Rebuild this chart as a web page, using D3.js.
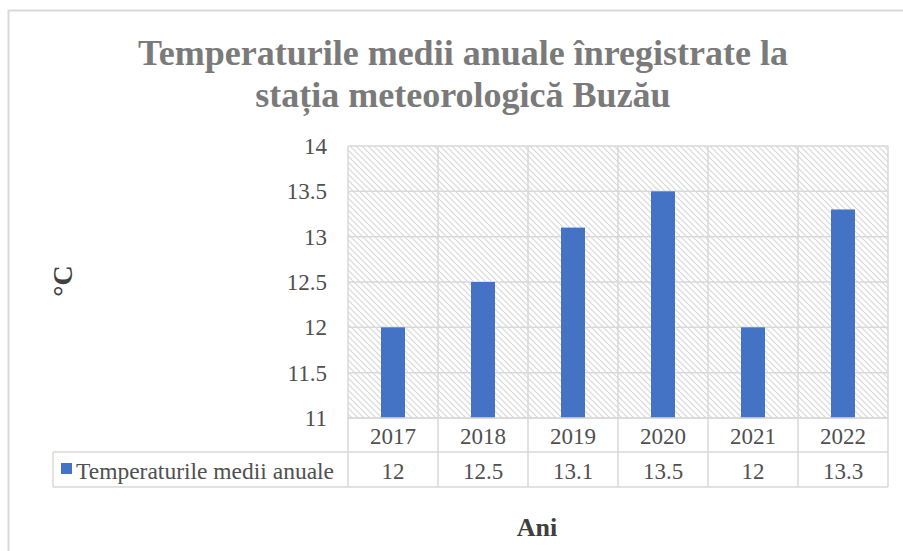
<!DOCTYPE html>
<html><head><meta charset="utf-8">
<script src="https://cdn.jsdelivr.net/npm/d3@7/dist/d3.min.js"></script>
<style>body{margin:0;background:#fff}svg{display:block}</style>
</head><body>
<script>
const years = ["2017","2018","2019","2020","2021","2022"];
const values = [12, 12.5, 13.1, 13.5, 12, 13.3];
const valueLabels = ["12","12.5","13.1","13.5","12","13.3"];
const yTicks = [11, 11.5, 12, 12.5, 13, 13.5, 14];
const seriesName = "Temperaturile medii anuale";
const titleLines = ["Temperaturile medii anuale înregistrate la", "stația meteorologică Buzău"];
const yTitle = "°C";
const xTitle = "Ani";

(function(){
const W = 903, H = 551;
const svg = d3.select("body").append("svg").attr("width", W).attr("height", H);
const font = "'Liberation Serif','Times New Roman',serif";
const txt = "#505050";

// hatch pattern
const defs = svg.append("defs");
const pat = defs.append("pattern").attr("id","hatch").attr("patternUnits","userSpaceOnUse")
  .attr("width",6).attr("height",6);
pat.append("rect").attr("width",6).attr("height",6).attr("fill","#fff");
pat.append("path").attr("d","M-1,-1 L7,7 M-4,2 L2,8 M4,-2 L8,2").attr("stroke","#d6d6d6").attr("stroke-width",1.1);

// outer border
svg.append("rect").attr("x",8.5).attr("y",10.5).attr("width",W+20).attr("height",H+20)
  .attr("fill","none").attr("stroke","#d9d9d9").attr("stroke-width",2);

const pLeft = 348, pRight = 888, pTop = 146, pBottom = 418;
const x = d3.scaleBand().domain(years).range([pLeft, pRight]).paddingInner(0).paddingOuter(0);
const y = d3.scaleLinear().domain([11, 14]).range([pBottom, pTop]);

// plot background
svg.append("rect").attr("x",pLeft).attr("y",pTop).attr("width",pRight-pLeft).attr("height",pBottom-pTop).attr("fill","url(#hatch)");

// gridlines
svg.append("g").selectAll("line").data(yTicks).join("line")
  .attr("x1",pLeft).attr("x2",pRight).attr("y1",d=>y(d)).attr("y2",d=>y(d))
  .attr("stroke","#d9d9d9").attr("stroke-width",1.5);
// vertical category lines
const bounds = years.map(d=>x(d)).concat([pRight]);
svg.append("g").selectAll("line").data(bounds).join("line")
  .attr("x1",d=>d).attr("x2",d=>d).attr("y1",pTop).attr("y2",487)
  .attr("stroke","#d9d9d9").attr("stroke-width",1.5);

// bars
const bw = 24;
svg.append("g").selectAll("rect").data(values).join("rect")
  .attr("x",(d,i)=>x(years[i])+x.bandwidth()/2-bw/2)
  .attr("width",bw)
  .attr("y",d=>y(d)).attr("height",d=>pBottom-y(d))
  .attr("fill","#4472c4");

// y tick labels
svg.append("g").selectAll("text").data(yTicks).join("text")
  .attr("x",327).attr("y",d=>y(d)+8).attr("text-anchor","end")
  .attr("font-family",font).attr("font-size",23).attr("fill",txt).text(d=>d);

// table
const tblLeft = 53, row1 = 418, row2 = 452, row3 = 487;
const g = svg.append("g").attr("stroke","#d9d9d9").attr("stroke-width",1.5);
g.append("line").attr("x1",pLeft).attr("x2",pRight).attr("y1",row1).attr("y2",row1);
g.append("line").attr("x1",tblLeft).attr("x2",pRight).attr("y1",row2).attr("y2",row2);
g.append("line").attr("x1",tblLeft).attr("x2",pRight).attr("y1",row3).attr("y2",row3);
g.append("line").attr("x1",tblLeft).attr("x2",tblLeft).attr("y1",row2).attr("y2",row3);

svg.append("g").selectAll("text").data(years).join("text")
  .attr("x",d=>x(d)+x.bandwidth()/2).attr("y",row1+26).attr("text-anchor","middle")
  .attr("font-family",font).attr("font-size",23).attr("fill",txt).text(d=>d);
svg.append("g").selectAll("text").data(valueLabels).join("text")
  .attr("x",(d,i)=>x(years[i])+x.bandwidth()/2).attr("y",row2+27).attr("text-anchor","middle")
  .attr("font-family",font).attr("font-size",23).attr("fill",txt).text(d=>d);

svg.append("rect").attr("x",61).attr("y",463).attr("width",11).attr("height",11).attr("fill","#4472c4");
svg.append("text").attr("x",76).attr("y",row2+27).attr("font-family",font).attr("font-size",23.5)
  .attr("fill",txt).text(seriesName);

// title
svg.append("g").selectAll("text").data(titleLines).join("text")
  .attr("x",463).attr("y",(d,i)=>65+i*42).attr("text-anchor","middle")
  .attr("font-family",font).attr("font-size",36).attr("font-weight","bold").attr("fill","#7a7a7a").text(d=>d);

// axis titles
svg.append("text").attr("transform","translate(72,281) rotate(-90)").attr("text-anchor","middle")
  .attr("font-family",font).attr("font-size",28).attr("font-weight","bold").attr("fill","#404040").text(yTitle);
svg.append("text").attr("x",537).attr("y",536).attr("text-anchor","middle")
  .attr("font-family",font).attr("font-size",26).attr("font-weight","bold").attr("fill","#404040").text(xTitle);
})();
</script>
</body></html>
